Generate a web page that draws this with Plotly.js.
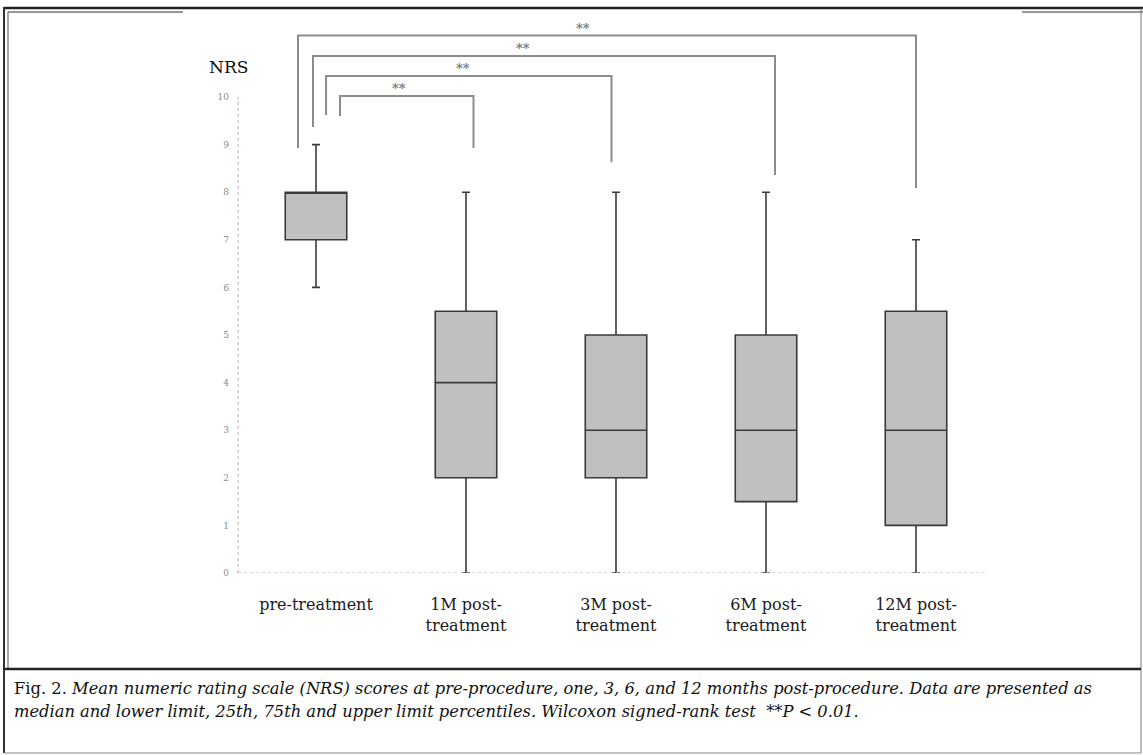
<!DOCTYPE html>
<html>
<head>
<meta charset="utf-8">
<script src="https://cdn.plot.ly/plotly-3.0.1.min.js"></script>
<style>
  html, body { margin: 0; padding: 0; background: #ffffff; }
  #chart { width: 1143px; height: 755px; }
</style>
</head>
<body>
<div id="chart"></div>
<script>
// ---- data ----
const categories = ["pre-treatment", "1M post-<br>treatment", "3M post-<br>treatment", "6M post-<br>treatment", "12M post-<br>treatment"];
const lowerLimit = [6, 0, 0, 0, 0];
const q1Values = [7, 2, 2, 1.5, 1];
const medianValues = [8, 4, 3, 3, 3];
const q3Values = [8, 5.5, 5, 5, 5.5];
const upperLimit = [9, 8, 8, 8, 7];
const yTickValues = [0, 1, 2, 3, 4, 5, 6, 7, 8, 9, 10];
const yTitle = "NRS";

// significance comparisons: pre-treatment (index 0) vs each follow-up
const compareTo = [1, 2, 3, 4];
const sigLabels = ["**", "**", "**", "**"];
const bracketLevel = [10.02, 10.44, 10.86, 11.29];
const leftLegBottom = [9.6, 9.62, 9.37, 8.93];
const rightLegBottom = [8.93, 8.63, 8.36, 8.09];
const leftLegOffset = [0.16, 0.067, -0.02, -0.12];
const rightLegOffset = [0.05, -0.03, 0.06, 0.0];
const starX = [0.55, 0.98, 1.38, 1.78];

const captionLine1 = "Fig. 2. <i>Mean numeric rating scale (NRS) scores at pre-procedure, one, 3, 6, and 12 months post-procedure. Data are presented as</i>";
const captionLine2 = "<i>median and lower limit, 25th, 75th and upper limit percentiles. Wilcoxon signed-rank test  **P &lt; 0.01.</i>";

// ---- geometry ----
const W = 1143, H = 755;
const PL = 238, PR = 988, PT = 10, PB = 573;
const unitPx = 47.6;
const yMax = (PB - PT) / unitPx;
const px = v => (v - PL) / (PR - PL);
const py = v => (PB - v) / (PB - PT);

const idx = categories.map((_, i) => i);

const boxTrace = {
  type: "box",
  x: idx,
  q1: q1Values,
  median: medianValues,
  q3: q3Values,
  lowerfence: lowerLimit,
  upperfence: upperLimit,
  width: 0.41,
  whiskerwidth: 0.13,
  boxpoints: false,
  fillcolor: "#c0c0c0",
  line: { color: "#3a3a3a", width: 1.6 },
  hoverinfo: "skip",
  showlegend: false
};

const shapes = [];
const annotations = [];
const gray = "#8c8c8c";

// brackets
compareTo.forEach((t, i) => {
  const xl = 0 + leftLegOffset[i];
  const xr = t + rightLegOffset[i];
  shapes.push({
    type: "path", xref: "x", yref: "y",
    path: `M ${xl},${leftLegBottom[i]} L ${xl},${bracketLevel[i]} L ${xr},${bracketLevel[i]} L ${xr},${rightLegBottom[i]}`,
    line: { color: gray, width: 2 }
  });
  annotations.push({
    xref: "x", yref: "y", x: starX[i], y: bracketLevel[i],
    text: "<b>" + sigLabels[i] + "</b>", showarrow: false, yanchor: "bottom", yshift: -2,
    font: { family: "DejaVu Serif", size: 13, color: "#777777" }
  });
});

// axis lines (dotted)
shapes.push({ type: "line", xref: "paper", yref: "y", x0: 0, x1: 0, y0: 0, y1: 10,
  line: { color: "#b0b0b0", width: 1, dash: "dot" } });
shapes.push({ type: "line", xref: "paper", yref: "y", x0: 0, x1: 1, y0: 0, y1: 0,
  line: { color: "#b0b0b0", width: 1, dash: "dot" } });

// frame
const frame = (x0, y0, x1, y1, color, width) => shapes.push({
  type: "line", xref: "paper", yref: "paper",
  x0: px(x0), y0: py(y0), x1: px(x1), y1: py(y1),
  line: { color, width }, layer: "above"
});
frame(4, 8, 1143, 8, "#222", 2.5);
frame(8, 12, 183, 12, "#333", 1.2);
frame(1022, 12, 1143, 12, "#333", 1.2);
frame(4, 7, 4, 753, "#333", 2);
frame(8, 12, 8, 669, "#555", 1);
frame(1141, 8, 1141, 753, "#777", 1);
frame(4, 669, 1141, 669, "#222", 2.5);
frame(4, 753, 1141, 753, "#888", 1);

// y title
annotations.push({
  xref: "paper", yref: "paper", x: px(228), y: py(67),
  text: yTitle, showarrow: false, xanchor: "center", yanchor: "middle",
  font: { family: "DejaVu Serif", size: 17, color: "#111" }
});

// caption
annotations.push({
  xref: "paper", yref: "paper", x: px(12), y: py(689),
  text: captionLine1, showarrow: false, xanchor: "left", yanchor: "middle",
  font: { family: "DejaVu Serif", size: 16.3, color: "#111" }
});
annotations.push({
  xref: "paper", yref: "paper", x: px(12), y: py(711),
  text: captionLine2, showarrow: false, xanchor: "left", yanchor: "middle",
  font: { family: "DejaVu Serif", size: 16.3, color: "#111" }
});

const layout = {
  width: W, height: H,
  margin: { l: PL, r: W - PR, t: PT, b: H - PB, pad: 0 },
  paper_bgcolor: "#ffffff",
  plot_bgcolor: "#ffffff",
  showlegend: false,
  xaxis: {
    range: [-0.52, 4.48], tickvals: idx, ticktext: categories,
    showgrid: false, zeroline: false, showline: false, ticks: "",
    ticklabelstandoff: 20,
    tickfont: { family: "DejaVu Serif", size: 16, color: "#1a1a1a" },
    fixedrange: true
  },
  yaxis: {
    range: [0, yMax], tickvals: yTickValues,
    showgrid: false, zeroline: false, showline: false, ticks: "",
    ticklabelstandoff: 8,
    tickfont: { family: "DejaVu Serif", size: 9, color: "#8a8a8a" },
    fixedrange: true
  },
  shapes, annotations
};

Plotly.newPlot("chart", [boxTrace], layout, { displayModeBar: false, staticPlot: true });
</script>
</body>
</html>
